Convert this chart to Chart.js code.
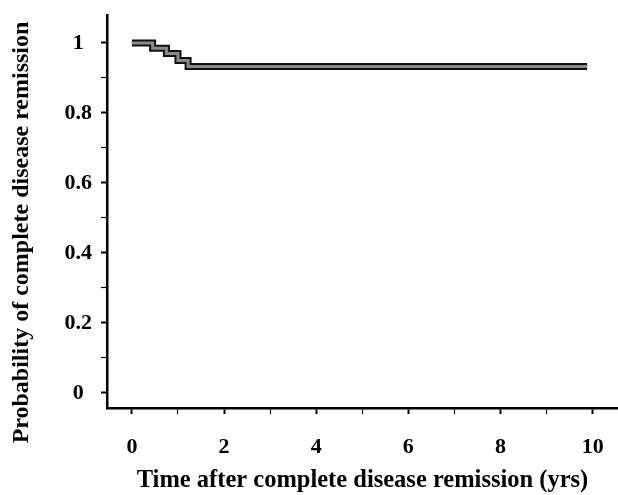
<!DOCTYPE html>
<html>
<head>
<meta charset="utf-8">
<script src="https://cdn.jsdelivr.net/npm/chart.js@4.4.0/dist/chart.umd.min.js"></script>
<style>
  html, body { margin: 0; padding: 0; background: #fff; }
  #wrap { width: 618px; height: 495px; }
</style>
</head>
<body>
<div id="wrap"><canvas id="chart1" width="618" height="495"></canvas></div>
<script>
// remission curve (step function)
var years = [0, 0.45, 0.75, 1.0, 1.22, 9.88];
var remission = [1.0, 0.985, 0.97, 0.95, 0.933, 0.933];
var xTicks = [0, 1, 2, 3, 4, 5, 6, 7, 8, 9, 10];
var yTicks = [0, 0.1, 0.2, 0.3, 0.4, 0.5, 0.6, 0.7, 0.8, 0.9, 1];

var pts = years.map(function (t, i) { return { x: t, y: remission[i] }; });
var serif = 'Liberation Serif';

var ctx = document.getElementById('chart1').getContext('2d');
var chart = new Chart(ctx, {
	type: 'scatter',
	data: {
		datasets: [{
			data: pts,
			showLine: true,
			stepped: 'before',
			borderColor: '#8a8a8a',
			borderWidth: 3,
			pointRadius: 0
		}, {
			data: pts,
			showLine: true,
			stepped: 'before',
			borderColor: '#111',
			borderWidth: 7,
			pointRadius: 0
		}]
	},
	options: {
		responsive: false,
		animation: false,
		layout: { padding: { top: 15, right: 0, left: 0, bottom: 0 } },
		plugins: { legend: { display: false }, tooltip: { enabled: false } },
		scales: {
			x: {
				type: 'linear',
				min: -0.54,
				max: 10.55,
				afterBuildTicks: function (s) { s.ticks = xTicks.map(function (v) { return { value: v }; }); },
				afterFit: function (s) { s.height = 87; s.paddingLeft = 0; s.paddingRight = 0; },
				border: { display: true, color: '#000', width: 2.5 },
				grid: {
					drawOnChartArea: false,
					drawTicks: true,
					tickLength: 6,
					tickColor: '#000',
					tickWidth: function (c) { return c.tick && c.tick.value % 2 === 0 ? 2 : 1.2; }
				},
				ticks: {
					autoSkip: false,
					maxRotation: 0,
					padding: 20,
					color: '#000',
					font: { family: serif, size: 22, weight: 'bold' },
					callback: function (v) { return v % 2 === 0 ? String(v) : ''; }
				},
				title: {
					display: true,
					text: 'Time after complete disease remission (yrs)',
					color: '#000',
					font: { family: serif, size: 24.5, weight: 'bold' },
					padding: { top: 6, bottom: 0 }
				}
			},
			y: {
				type: 'linear',
				min: -0.043,
				max: 1.08,
				afterBuildTicks: function (s) { s.ticks = yTicks.map(function (v) { return { value: v }; }); },
				afterFit: function (s) { s.width = 107; s.paddingTop = 0; s.paddingBottom = 0; },
				border: { display: true, color: '#000', width: 2.5 },
				grid: {
					drawOnChartArea: false,
					drawTicks: true,
					tickLength: 6,
					tickColor: '#000',
					tickWidth: function (c) { return c.tick && Math.round(c.tick.value * 10) % 2 === 0 ? 2 : 1.2; }
				},
				ticks: {
					autoSkip: false,
					crossAlign: 'center',
					padding: 9,
					color: '#000',
					font: { family: serif, size: 22, weight: 'bold' },
					callback: function (v) {
						var k = Math.round(v * 10);
						if (k % 2 !== 0) return '';
						return k === 0 ? '0' : (k === 10 ? '1' : (k / 10).toFixed(1));
					}
				},
				title: {
					display: true,
					// trailing spaces push the label down a little, as in the original
					text: 'Probability of complete disease remission       ',
					color: '#000',
					font: { family: serif, size: 24, weight: 'bold' },
					padding: { top: 7, bottom: 0 }
				}
			}
		}
	}
});
</script>
</body>
</html>
